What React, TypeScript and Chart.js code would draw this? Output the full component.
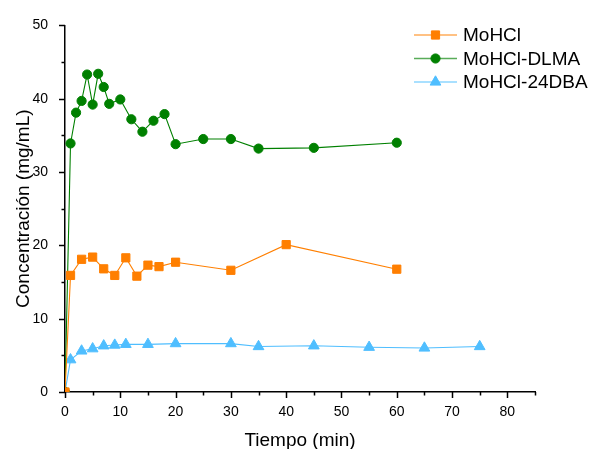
import React, { useEffect, useRef } from "react";
import { Chart, registerables } from "chart.js";

Chart.register(...registerables);

// ---- data ----
const seriesNames = ["MoHCl", "MoHCl-DLMA", "MoHCl-24DBA"];

const moHClTime = [0, 1, 3, 5, 7, 9, 11, 13, 15, 17, 20, 30, 40, 60];
const moHClConc = [0, 15.9, 18.1, 18.4, 16.8, 15.9, 18.3, 15.8, 17.3, 17.1, 17.7, 16.6, 20.1, 16.75];

const dlmaTime = [0, 1, 2, 3, 4, 5, 6, 7, 8, 10, 12, 14, 16, 18, 20, 25, 30, 35, 45, 60];
const dlmaConc = [0, 33.9, 38.1, 39.7, 43.3, 39.2, 43.4, 41.6, 39.3, 39.9, 37.2, 35.5, 37.0, 37.9, 33.8, 34.5, 34.5, 33.2, 33.3, 34.0];

const dbaTime = [0, 1, 3, 5, 7, 9, 11, 15, 20, 30, 35, 45, 55, 65, 75];
const dbaConc = [0, 4.4, 5.6, 5.9, 6.3, 6.4, 6.5, 6.5, 6.6, 6.6, 6.2, 6.3, 6.1, 6.0, 6.2];

const xMajorTicks = [0, 10, 20, 30, 40, 50, 60, 70, 80];
const xMinorTicks = [5, 15, 25, 35, 45, 55, 65, 75, 85];
const yMajorTicks = [0, 10, 20, 30, 40, 50];
const yMinorTicks = [5, 15, 25, 35, 45];

const xTitle = "Tiempo (min)";
const yTitle = "Concentración (mg/mL)";

const colors = ["#FF7F00", "#008000", "#4FBEFF"];
const pointStyles = ["rect", "circle", "triangle"];
const pointRadii = [5.8, 4.6, 6.2];

const FONT = "'Liberation Sans', Arial, sans-serif";

const toPoints = (xs: number[], ys: number[]) => xs.map((x, i) => ({ x, y: ys[i] }));

function drawMarker(ctx: CanvasRenderingContext2D, style: string, r: number, x: number, y: number) {
  ctx.beginPath();
  if (style === "rect") {
    const s = Math.SQRT1_2 * r;
    ctx.rect(x - s, y - s, 2 * s, 2 * s);
  } else if (style === "circle") {
    ctx.arc(x, y, r, 0, Math.PI * 2);
  } else {
    const a = (2 * Math.PI) / 3;
    let rad = 0;
    ctx.moveTo(x + Math.sin(rad) * r, y - Math.cos(rad) * r);
    rad += a;
    ctx.lineTo(x + Math.sin(rad) * r, y - Math.cos(rad) * r);
    rad += a;
    ctx.lineTo(x + Math.sin(rad) * r, y - Math.cos(rad) * r);
    ctx.closePath();
  }
  ctx.fill();
  ctx.stroke();
}

const ticksPlugin = {
  id: "customTicks",
  afterDraw(chart: any) {
    const ctx = chart.ctx;
    const xs = chart.scales.x;
    const ys = chart.scales.y;
    const area = chart.chartArea;
    ctx.save();
    ctx.strokeStyle = "#000";
    ctx.lineWidth = 1.5;
    const drawX = (v: number, len: number) => {
      const px = Math.round(xs.getPixelForValue(v)) + 0.5;
      ctx.beginPath();
      ctx.moveTo(px, area.bottom);
      ctx.lineTo(px, area.bottom + len);
      ctx.stroke();
    };
    const drawY = (v: number, len: number) => {
      const py = Math.round(ys.getPixelForValue(v)) + 0.5;
      ctx.beginPath();
      ctx.moveTo(area.left, py);
      ctx.lineTo(area.left - len, py);
      ctx.stroke();
    };
    xMajorTicks.forEach((v) => drawX(v, 6));
    xMinorTicks.forEach((v) => drawX(v, 3.5));
    yMajorTicks.forEach((v) => drawY(v, 6));
    yMinorTicks.forEach((v) => drawY(v, 3.5));

    // legend
    const rows = [35, 58.5, 82];
    const lx0 = 414;
    const lx1 = 457;
    ctx.font = `19px ${FONT}`;
    ctx.textBaseline = "middle";
    ctx.textAlign = "left";
    seriesNames.forEach((name, i) => {
      const y = rows[i];
      ctx.save();
      ctx.globalAlpha = 0.65;
      ctx.strokeStyle = colors[i];
      ctx.lineWidth = 1.5;
      ctx.beginPath();
      ctx.moveTo(lx0, y);
      ctx.lineTo(lx1, y);
      ctx.stroke();
      ctx.restore();
      ctx.fillStyle = colors[i];
      ctx.strokeStyle = colors[i];
      ctx.lineWidth = 1;
      drawMarker(ctx, pointStyles[i], pointRadii[i], (lx0 + lx1) / 2, y);
      ctx.fillStyle = "#000";
      ctx.fillText(name, 463, y + 1);
    });
    ctx.restore();
  },
};

export default function App() {
  const ref = useRef<HTMLCanvasElement | null>(null);
  useEffect(() => {
    if (!ref.current) return;
    const series = [
      toPoints(moHClTime, moHClConc),
      toPoints(dlmaTime, dlmaConc),
      toPoints(dbaTime, dbaConc),
    ];
    const chart = new Chart(ref.current, {
      type: "scatter",
      data: {
        datasets: series.map((d, i) => ({
          label: seriesNames[i],
          data: d,
          showLine: true,
          borderColor: colors[i],
          backgroundColor: colors[i],
          borderWidth: 1.1,
          pointStyle: pointStyles[i] as any,
          pointRadius: pointRadii[i],
          pointBorderWidth: 1,
          pointBorderColor: colors[i],
          pointBackgroundColor: colors[i],
          tension: 0,
        })),
      },
      plugins: [ticksPlugin],
      options: {
        responsive: false,
        animation: false,
        devicePixelRatio: 1,
        layout: { padding: { left: 0, top: 21, right: 58, bottom: 0 } },
        plugins: { legend: { display: false }, tooltip: { enabled: false } },
        scales: {
          x: {
            type: "linear",
            min: 0,
            max: 85,
            afterBuildTicks: (s: any) => {
              s.ticks = xMajorTicks.map((v) => ({ value: v }));
            },
            afterFit: (s: any) => {
              s.height = 57;
            },
            grid: { display: false, drawTicks: false, tickLength: 0 },
            border: { display: true, color: "#000", width: 1.5 },
            ticks: {
              color: "#000",
              padding: 12,
              maxRotation: 0,
              font: { family: FONT, size: 14 },
            },
            title: {
              display: true,
              text: xTitle,
              color: "#000",
              font: { family: FONT, size: 19, lineHeight: 0.9 },
              padding: { top: 0, bottom: 0 },
            },
          },
          y: {
            type: "linear",
            min: 0,
            max: 50,
            afterBuildTicks: (s: any) => {
              s.ticks = yMajorTicks.map((v) => ({ value: v }));
            },
            afterFit: (s: any) => {
              s.width = 65;
            },
            grid: { display: false, drawTicks: false, tickLength: 0 },
            border: { display: true, color: "#000", width: 1.5 },
            ticks: {
              color: "#000",
              padding: 17,
              font: { family: FONT, size: 14 },
            },
            title: {
              display: true,
              text: yTitle,
              color: "#000",
              font: { family: FONT, size: 19 },
              padding: { top: 12, bottom: 0 },
            },
          },
        },
      },
    });
    return () => chart.destroy();
  }, []);
  return (
    <div style={{ position: "fixed", left: 0, top: 0, width: 593, height: 449, background: "#fff" }}>
      <canvas ref={ref} width={593} height={449} />
    </div>
  );
}
